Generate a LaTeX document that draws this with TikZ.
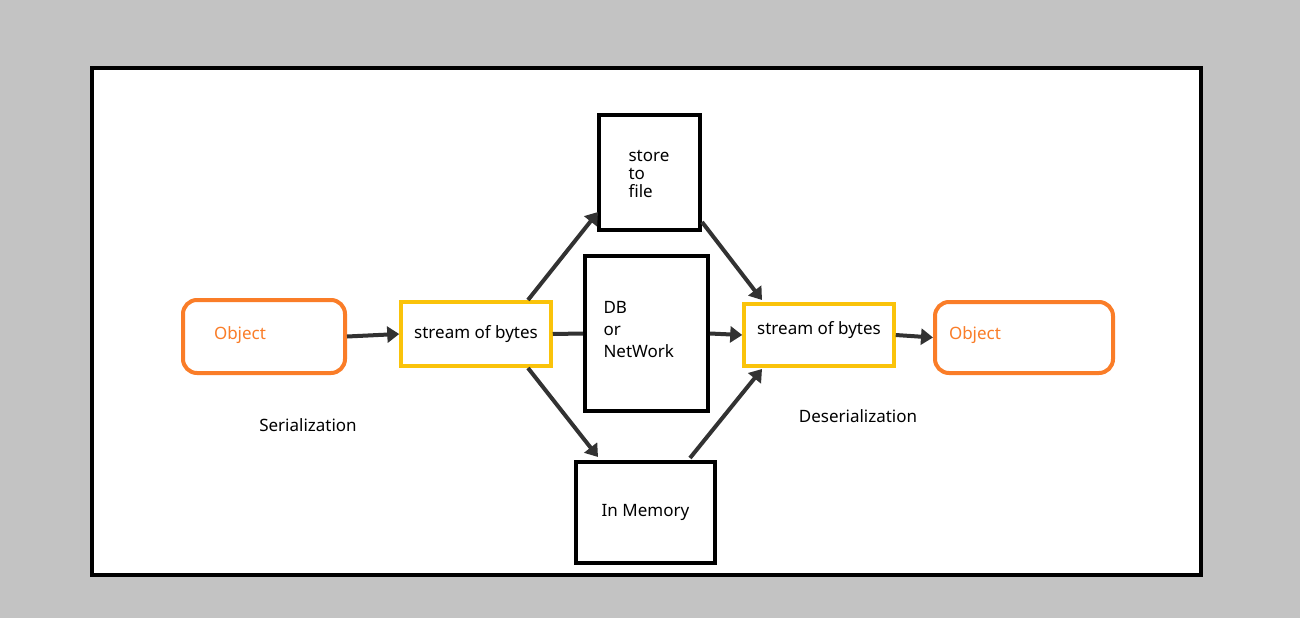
\documentclass[tikz,border=0pt]{standalone}
\usepackage{fontspec}
\setmainfont{Noto Sans}
\usetikzlibrary{arrows.meta}
\definecolor{bg}{RGB}{195,195,195}
\definecolor{org}{RGB}{250,125,40}
\definecolor{yel}{RGB}{250,195,10}
\definecolor{arr}{RGB}{50,50,50}
\begin{document}
\begin{tikzpicture}[x=1pt,y=-1pt,
  txt/.style={font=\fontsize{17}{24}\selectfont},
  obj/.style={draw=org,line width=4pt,rounded corners=14pt,text=org,txt,inner sep=0},
  sob/.style={draw=yel,line width=3.5pt,txt,inner sep=0},
  blk/.style={draw=black,line width=4pt,txt,inner sep=0},
  ar/.style={draw=arr,line width=4pt,-{Triangle[length=12pt,width=16pt]}},
  ln/.style={draw=arr,line width=4pt}]
\fill[bg] (0,0) rectangle (1300,618);
\useasboundingbox (0,0) rectangle (1300,618);
\draw[fill=white,line width=4pt] (92,68) rectangle (1201,575);
\node[obj,minimum width=162pt,minimum height=73pt] (o1) at (264,336.5) {};
\node[txt,text=org] at (240,335) {Object};
\node[sob,minimum width=150pt,minimum height=64pt] (s1) at (476,334) {stream of bytes};
\node[blk,minimum width=101pt,minimum height=115pt] (f) at (649.5,172.5) {};
\node[txt,align=left,anchor=north west] at (625,147) {store\\[-6pt]to\\[-6pt]file};
\node[blk,minimum width=123pt,minimum height=155pt] (db) at (646.5,333.5) {};
\node[txt,align=left,anchor=north west] at (600,298) {DB\\[-2pt]or\\[-2pt]NetWork};
\node[blk,minimum width=139pt,minimum height=101pt] (m) at (645.5,512.5) {In Memory};
\node[sob,minimum width=150pt,minimum height=62pt] (s2) at (819,335) {};
\node[txt] at (819,330) {stream of bytes};
\node[obj,minimum width=178pt,minimum height=71pt] (o2) at (1024,337.5) {};
\node[txt,text=org] at (975,335) {Object};
\node[txt] (ser) at (308,425) {Serialization};
\node[txt] (des) at (858,416) {Deserialization};
\coordinate (a1) at (528,300); \coordinate (a2) at (528,368);
\coordinate (f1) at (702,222); \coordinate (m1) at (690,458);
\draw[ar] (o1.east) -- (s1.west);
\draw[ar] (a1) -- (598,212) coordinate (fa);
\draw[ln] (s1.east) -- (db.west);
\draw[ar] (a2) -- (598,457);
\draw[ar] (db.east) -- (s2.west);
\draw[ar] (f1) -- (762,300);
\draw[ar] (m1) -- (762,369);
\draw[ar] (s2.east) -- (o2.west);
\end{tikzpicture}
\end{document}
